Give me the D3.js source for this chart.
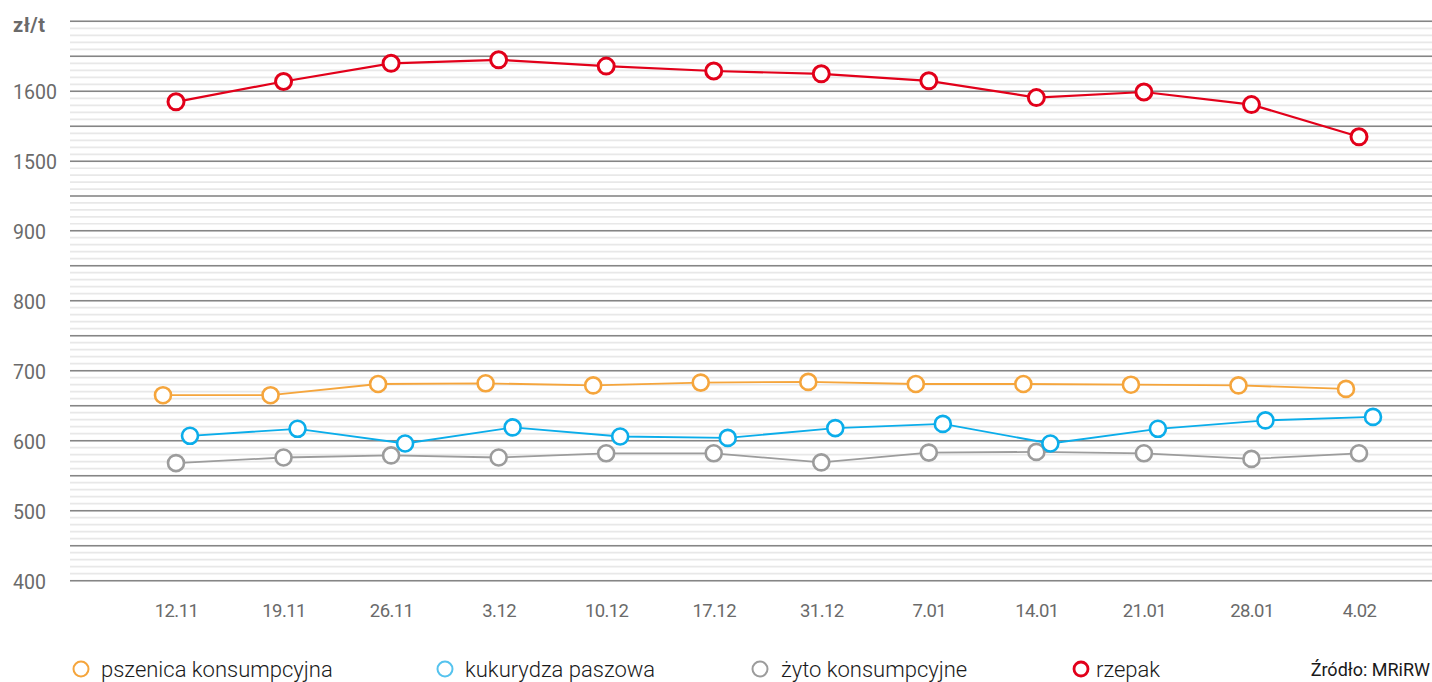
<!DOCTYPE html>
<html>
<head>
<meta charset="utf-8">
<script src="https://cdn.jsdelivr.net/npm/d3@7"></script>
<style>
  html, body { margin: 0; padding: 0; background: #fff; }
  svg { display: block; font-family: Roboto, "Noto Sans", sans-serif; }
</style>
</head>
<body>
<svg id="chart" width="1432" height="682"></svg>
<script>
// Weekly dates of the price quotes
const weeks = ["12.11", "19.11", "26.11", "3.12", "10.12", "17.12", "31.12", "7.01", "14.01", "21.01", "28.01", "4.02"];

// Prices, zł/t
const pszenica = [665, 665, 681, 682, 679, 683, 684, 681, 681, 680, 679, 674];
const kukurydza = [607, 617, 596, 619, 606, 604, 618, 624, 596, 617, 629, 634];
const zyto = [568, 576, 579, 576, 582, 582, 569, 583, 584, 582, 574, 582];
const rzepak = [1585, 1614, 1640, 1645, 1636, 1629, 1625, 1615, 1591, 1599, 1581, 1535];

// Labelled y ticks (the axis is broken between 900 and 1500)
const yTickLabels = [400, 500, 600, 700, 800, 900, 1500, 1600];

const seriesNames = ["pszenica konsumpcyjna", "kukurydza paszowa", "żyto konsumpcyjne", "rzepak"];

const svg = d3.select("#chart");

const plotLeft = 70, plotRight = 1432;

// Piecewise y scale: 400–900 and 1500–1700 at the same unit height, gap compressed
const y = d3.scaleLinear()
  .domain([400, 900, 1500, 1700])
  .range([580.7, 230.7, 161.3, 21.3]);

const x = d3.scalePoint()
  .domain(weeks)
  .range([176, 1359]);

// Grid: minor lines every 10 (every 60 within the gap), major lines every 50
const minor = d3.range(400, 900, 10)
  .concat(d3.range(900, 1500, 60))
  .concat(d3.range(1500, 1701, 10));
const major = d3.range(400, 901, 50).concat([1200]).concat(d3.range(1500, 1701, 50));

const grid = svg.append("g");
grid.selectAll("line.minor").data(minor).join("line")
  .attr("class", "minor")
  .attr("x1", plotLeft).attr("x2", plotRight)
  .attr("y1", d => y(d)).attr("y2", d => y(d))
  .attr("stroke", "#e8e8e8").attr("stroke-width", 1.7);
grid.selectAll("line.major").data(major).join("line")
  .attr("class", "major")
  .attr("x1", plotLeft).attr("x2", plotRight)
  .attr("y1", d => y(d)).attr("y2", d => y(d))
  .attr("stroke", "#858585").attr("stroke-width", 1.6);

// Y tick labels
svg.append("g").selectAll("text").data(yTickLabels).join("text")
  .attr("x", 13).attr("y", d => y(d) + 8)
  .attr("fill", "#6a6a6a").attr("font-size", 19.5)
  .text(d => d);

// Unit label
svg.append("text")
  .attr("x", 13).attr("y", 32)
  .attr("fill", "#6a6a6a").attr("font-size", 20).attr("font-weight", 700)
  .attr("letter-spacing", 0.5)
  .text("zł/t");

// X axis labels
const xAxis = d3.axisBottom(x).tickSize(0).tickPadding(0);
const gx = svg.append("g").attr("transform", "translate(0,604)").call(xAxis);
gx.select(".domain").remove();
gx.selectAll("text")
  .attr("fill", "#6a6a6a").attr("font-size", 18.5)
  .attr("font-family", "Roboto, sans-serif")
  .attr("letter-spacing", -0.6)
  .attr("dy", "0.71em");

// Series definitions (drawn bottom to top)
const series = [
  { name: seriesNames[2], values: zyto, color: "#9c9c9c", dx: 0, lw: 1.8, mw: 2.6 },
  { name: seriesNames[0], values: pszenica, color: "#f5a53c", dx: -13, lw: 1.8, mw: 2.6 },
  { name: seriesNames[1], values: kukurydza, color: "#0badea", dx: 14, lw: 1.8, mw: 2.6 },
  { name: seriesNames[3], values: rzepak, color: "#e2001a", dx: 0, lw: 2.2, mw: 3 }
];

const line = d3.line()
  .x(d => x(d.week) + d.dx)
  .y(d => y(d.v));

series.forEach(s => {
  const pts = s.values.map((v, i) => ({ week: weeks[i], v, dx: s.dx }));
  const g = svg.append("g");
  g.append("path")
    .attr("d", line(pts))
    .attr("fill", "none")
    .attr("stroke", s.color)
    .attr("stroke-width", s.lw);
  g.selectAll("circle").data(pts).join("circle")
    .attr("cx", d => x(d.week) + d.dx)
    .attr("cy", d => y(d.v))
    .attr("r", 8)
    .attr("fill", "#fff")
    .attr("stroke", s.color)
    .attr("stroke-width", s.mw);
});

// Legend
const legendItems = [
  { name: seriesNames[0], color: "#f5a53c", cx: 81, tx: 101, w: 2 },
  { name: seriesNames[1], color: "#55c3ee", cx: 445, tx: 465, w: 2 },
  { name: seriesNames[2], color: "#9c9c9c", cx: 760, tx: 781, w: 2 },
  { name: seriesNames[3], color: "#e2001a", cx: 1081, tx: 1096, w: 2.8 }
];
const lg = svg.append("g");
lg.selectAll("circle").data(legendItems).join("circle")
  .attr("cx", d => d.cx).attr("cy", 669)
  .attr("r", d => d.name === "rzepak" ? 7 : 7.5)
  .attr("fill", "#fff")
  .attr("stroke", d => d.color)
  .attr("stroke-width", d => d.w);
lg.selectAll("text").data(legendItems).join("text")
  .attr("x", d => d.tx).attr("y", 677)
  .attr("fill", "#1a1a1a").attr("font-size", 22).attr("font-weight", 300)
  .text(d => d.name);

// Source note
svg.append("text")
  .attr("x", 1430).attr("y", 676)
  .attr("text-anchor", "end")
  .attr("fill", "#1a1a1a").attr("font-size", 18)
  .text("Źródło: MRiRW");
</script>
</body>
</html>
